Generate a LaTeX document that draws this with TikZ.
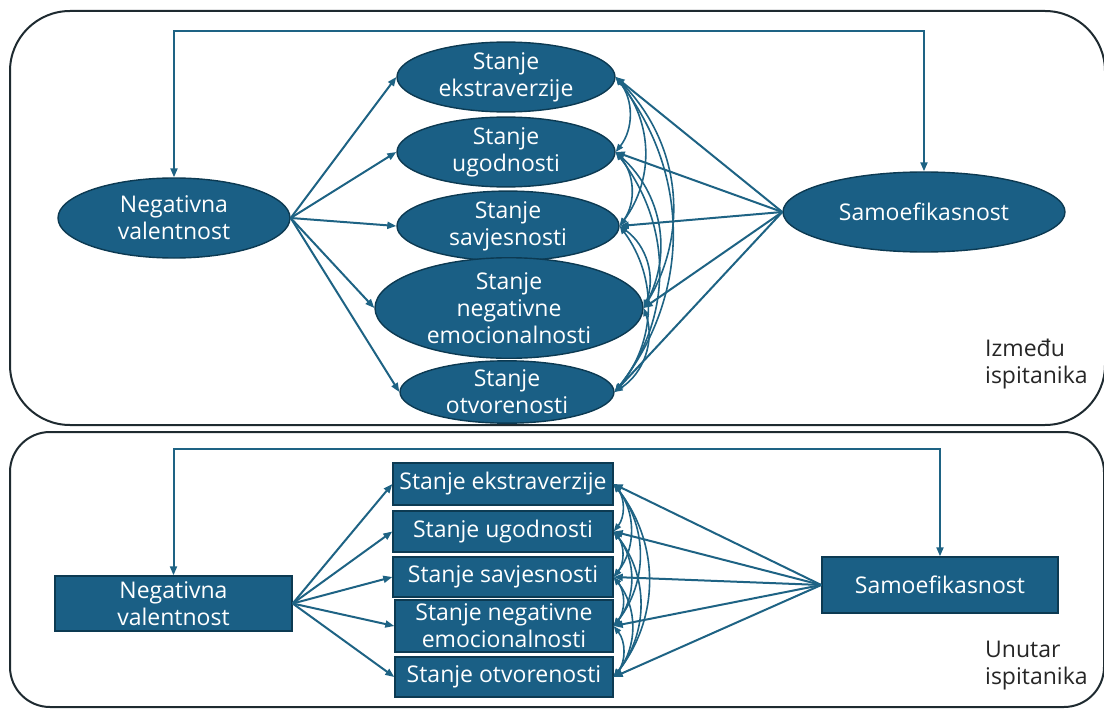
\documentclass[tikz,border=0pt]{standalone}
\usepackage{fontspec}
\setmainfont{Open Sans}
\usetikzlibrary{shapes.geometric,arrows.meta}
\definecolor{nodefill}{HTML}{1A5F85}
\definecolor{nodeline}{HTML}{0C3A52}
\definecolor{conn}{HTML}{1E6384}
\definecolor{panel}{HTML}{1E2A30}
\begin{document}
\begin{tikzpicture}[x=1pt,y=-1pt,
  nfont/.style={font=\fontsize{23}{27}\selectfont},
  ell/.style={ellipse, fill=nodefill, draw=nodeline, line width=1.4pt, text=white, align=center, inner sep=0pt, nfont},
  box/.style={rectangle, fill=nodefill, draw=nodeline, line width=1.4pt, text=white, align=center, inner sep=0pt, nfont},
  arr/.style={draw=conn, line width=2pt, -{Triangle[length=9pt,width=7pt]}},
  dbl/.style={draw=conn, line width=2pt, {Triangle[length=9pt,width=7pt]}-{Triangle[length=9pt,width=7pt]}},
  cor/.style={draw=conn, line width=1.6pt, {Triangle[length=8pt,width=6pt]}-{Triangle[length=8pt,width=6pt]}, bend left=38},
  panelbox/.style={draw=panel, line width=2pt},
  lbl/.style={align=left, anchor=north west, inner sep=0pt, text=black!85, nfont}]
\useasboundingbox (0,0) rectangle (1104,709);

% panels
\draw[panelbox, rounded corners=60] (10,11) rectangle (1105,425);
\draw[panelbox, rounded corners=40] (10,432) rectangle (1104,707);

% ---- top (between subjects) ----
\node[ell, minimum width=232pt, minimum height=80pt] (nv) at (174,218) {Negativna\\valentnost};
\node[ell, minimum width=218pt, minimum height=64pt] (e1) at (506,77) {Stanje\\ekstraverzije};
\node[ell, minimum width=218pt, minimum height=62pt] (e2) at (506,152) {Stanje\\ugodnosti};
\node[ell, minimum width=222pt, minimum height=62pt] (e3) at (508,226) {Stanje\\savjesnosti};
\node[ell, minimum width=268pt, minimum height=92pt] (e4) at (509,308) {Stanje\\negativne\\emocionalnosti};
\node[ell, minimum width=214pt, minimum height=62pt] (e5) at (507,392) {Stanje\\otvorenosti};
\node[ell, minimum width=282pt, minimum height=80pt] (sam) at (924,212) {Samoefikasnost};

\coordinate (ttop) at (550,31);
\draw[dbl] (nv.north) |- (ttop) -| (sam.north);

\foreach \i in {e1,e2,e3,e4,e5} {
  \draw[arr] (nv.east) -- (\i.west);
  \draw[arr] (sam.west) -- (\i.east);
}
\foreach \a/\b in {e1/e2,e1/e3,e1/e4,e1/e5,e2/e3,e2/e4,e2/e5,e3/e4,e3/e5,e4/e5} {
  \draw[cor] (\a.east) to (\b.east);
}

\node[lbl] (lab1) at (985,339) {Između\\ispitanika};

% ---- bottom (within subjects) ----
\node[box, minimum width=237pt, minimum height=55pt] (nb) at (173.5,603.5) {Negativna\\valentnost};
\node[box, minimum width=220pt, minimum height=42pt] (b1) at (503,484) {Stanje ekstraverzije};
\node[box, minimum width=220pt, minimum height=41pt] (b2) at (503,531.5) {Stanje ugodnosti};
\node[box, minimum width=220pt, minimum height=40pt] (b3) at (503,577) {Stanje savjesnosti};
\node[box, minimum width=218pt, minimum height=52pt] (b4) at (504,626) {Stanje negativne\\emocionalnosti};
\node[box, minimum width=218pt, minimum height=40pt] (b5) at (504,677) {Stanje otvorenosti};
\node[box, minimum width=236pt, minimum height=56pt] (sb) at (940,585) {Samoefikasnost};

\coordinate (btop) at (550,449);
\draw[dbl] (nb.north) |- (btop) -| (sb.north);

\foreach \i in {b1,b2,b3,b4,b5} {
  \draw[arr] (nb.east) -- (\i.west);
  \draw[arr] (sb.west) -- (\i.east);
}
\foreach \a/\b in {b1/b2,b1/b3,b1/b4,b1/b5,b2/b3,b2/b4,b2/b5,b3/b4,b3/b5,b4/b5} {
  \draw[cor] (\a.east) to (\b.east);
}

\node[lbl] (lab2) at (985,641) {Unutar\\ispitanika};
\end{tikzpicture}
\end{document}
